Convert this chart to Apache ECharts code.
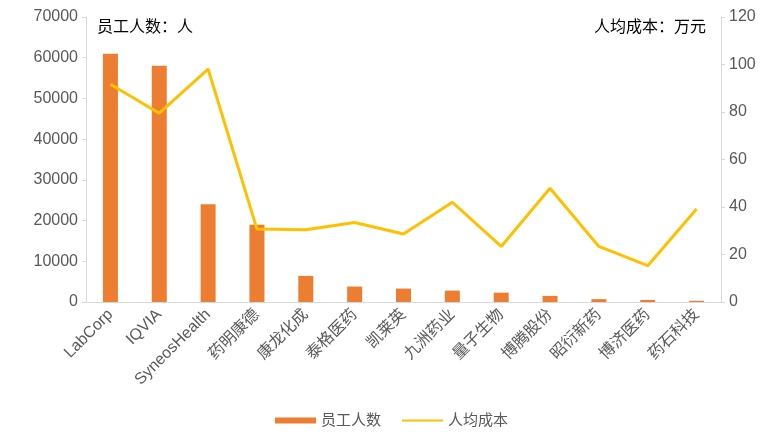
<!DOCTYPE html>
<html><head><meta charset="utf-8">
<script src="https://cdn.jsdelivr.net/npm/echarts@6/dist/echarts.min.js"></script>
<style>html,body{margin:0;padding:0;background:#fff}#c{width:783px;height:441px}</style>
</head><body><div id="c"></div>
<script>
var categories = ['LabCorp','IQVIA','SyneosHealth','药明康德','康龙化成','泰格医药','凯莱英','九洲药业','量子生物','博腾股份','昭衍新药','博济医药','药石科技'];
var employees = [61000, 58000, 24000, 19000, 6400, 3800, 3300, 2800, 2300, 1500, 700, 500, 300];
var costPerHead = [91.7, 79.5, 98.1, 30.7, 30.4, 33.5, 28.6, 42.0, 23.4, 47.9, 23.4, 15.3, 39.2];
var leftTicks = {min: 0, max: 70000, interval: 10000};
var rightTicks = {min: 0, max: 120, interval: 20};

var font = '"Liberation Sans", "Noto Sans CJK SC", sans-serif';
var chart = echarts.init(document.getElementById('c'));
chart.setOption({
  backgroundColor: '#fff',
  animation: false,
  textStyle: {fontFamily: font},
  grid: {left: 86, right: 62, top: 17, bottom: 139, containLabel: false},
  graphic: [
    {type: 'text', left: 97, top: 20, style: {text: '员工人数：人', font: '16px ' + font, fill: '#000'}},
    {type: 'text', right: 77, top: 20, style: {text: '人均成本：万元', font: '16px ' + font, fill: '#000'}}
  ],
  legend: {
    bottom: 8, left: 'center', itemGap: 20, itemWidth: 41, itemHeight: 6,
    textStyle: {fontSize: 15, color: '#595959', fontFamily: font},
    data: [{name: '员工人数', icon: 'rect'}, {name: '人均成本', itemStyle: {opacity: 0}}]
  },
  xAxis: {
    type: 'category', data: categories,
    axisLine: {lineStyle: {color: '#d9d9d9', width: 1}},
    axisTick: {show: false},
    axisLabel: {rotate: 45, fontSize: 16, color: '#595959', interval: 0, margin: 10, fontFamily: font}
  },
  yAxis: [
    {type: 'value', min: leftTicks.min, max: leftTicks.max, interval: leftTicks.interval,
     axisLine: {show: true, lineStyle: {color: '#d9d9d9'}},
     axisTick: {show: true, length: 4, lineStyle: {color: '#d9d9d9'}},
     splitLine: {show: false},
     axisLabel: {fontSize: 16, color: '#595959', margin: 8, fontFamily: font, formatter: function (v) { return String(v); }}},
    {type: 'value', min: rightTicks.min, max: rightTicks.max, interval: rightTicks.interval,
     position: 'right',
     axisLine: {show: true, lineStyle: {color: '#d9d9d9'}},
     axisTick: {show: true, length: 4, lineStyle: {color: '#d9d9d9'}},
     splitLine: {show: false},
     axisLabel: {fontSize: 16, color: '#595959', margin: 8, fontFamily: font}}
  ],
  series: [
    {name: '员工人数', type: 'bar', data: employees, barWidth: 15, itemStyle: {color: '#ED7D31'}, yAxisIndex: 0},
    {name: '人均成本', type: 'line', data: costPerHead, yAxisIndex: 1, symbol: 'none',
     lineStyle: {color: '#FFC000', width: 3}, itemStyle: {color: '#FFC000'}}
  ]
});
</script></body></html>
